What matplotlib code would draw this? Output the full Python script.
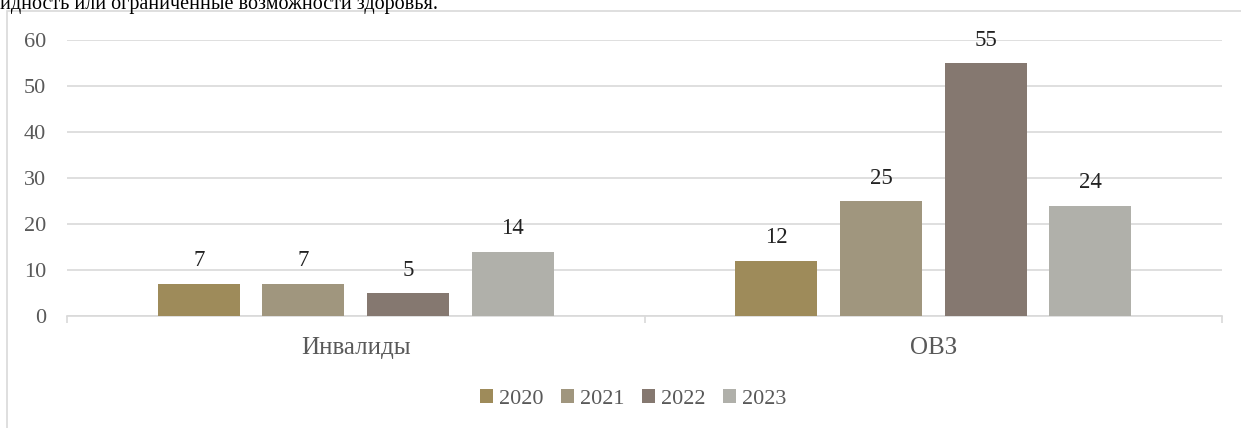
import matplotlib.pyplot as plt
import numpy as np
from matplotlib.patches import Rectangle

categories = ["Инвалиды", "ОВЗ"]
years = ["2020", "2021", "2022", "2023"]
values = {
    "2020": [7, 12],
    "2021": [7, 25],
    "2022": [5, 55],
    "2023": [14, 24],
}
colors = ["#9E8B5A", "#A0967E", "#857870", "#B0B0AA"]

plt.rcParams["font.family"] = ["Liberation Serif", "DejaVu Serif"]

W, H = 1241, 428
fig = plt.figure(figsize=(W / 100, H / 100), dpi=100)

# chart frame (crop of a document chart, border cut at right/bottom)
fig.patches.append(Rectangle((7 / W, -0.1), 1.2, (H - 11) / H + 0.1,
                             transform=fig.transFigure, fill=False,
                             edgecolor="#d9d9d9", lw=1.2))
# cut-off document text above the chart
fig.text(0.0, (H - 9.5) / H, "идность или ограниченные возможности здоровья.",
         fontsize=14.5, color="black", va="baseline", ha="left")

ax = fig.add_axes([67 / W, (H - 316) / H, (1222 - 67) / W, 276 / H])
x = np.arange(len(categories))
step = 0.181
width = 0.142
for i, (yr, c) in enumerate(zip(years, colors)):
    pos = x + (i - 1.5) * step
    bars = ax.bar(pos, values[yr], width, color=c, label=yr, zorder=3)
    for b, v in zip(bars, values[yr]):
        ax.annotate(str(v), (b.get_x() + b.get_width() / 2, v),
                    xytext=(0, 9), textcoords="offset points",
                    ha="center", va="bottom", fontsize=16.5, color="#222222")

ax.set_xlim(-0.5, 1.5)
ax.set_ylim(0, 60)
ax.set_yticks(range(0, 61, 10))
ax.yaxis.grid(True, color="#d9d9d9", lw=1.2, zorder=0)
ax.set_axisbelow(True)
for s in ["top", "right", "left"]:
    ax.spines[s].set_visible(False)
ax.spines["bottom"].set_color("#d9d9d9")
ax.spines["bottom"].set_linewidth(1.2)
ax.tick_params(axis="y", length=0, pad=15, labelsize=16, labelcolor="#595959")
ax.set_xticks(x)
ax.set_xticklabels(categories)
ax.tick_params(axis="x", length=0, pad=15, labelsize=18, labelcolor="#595959")
ax.set_xticks([-0.5, 0.5, 1.5], minor=True)
ax.tick_params(axis="x", which="minor", length=5, color="#d9d9d9", width=1.2)

leg = fig.legend(loc="center", bbox_to_anchor=(633 / W, (H - 399) / H), ncol=4,
                 frameon=False, fontsize=16, handlelength=0.6, handleheight=0.6,
                 handletextpad=0.25, columnspacing=0.8)
for t in leg.get_texts():
    t.set_color("#595959")

fig.savefig("out.png", dpi=100)
